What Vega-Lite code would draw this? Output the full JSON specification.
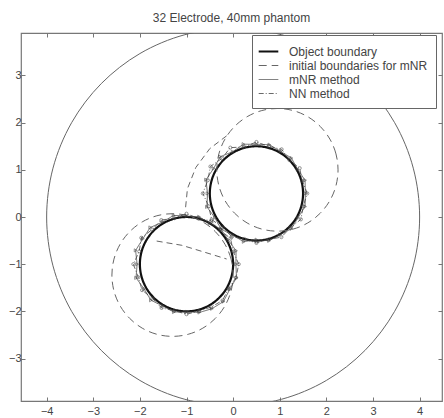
{
"$schema":"https://vega.github.io/schema/vega-lite/v6.json",
"width":421,"height":368,"autosize":"none",
"padding":{"left":21,"top":33,"right":2,"bottom":17},
"background":"white",
"title":{"text":"32 Electrode, 40mm phantom","fontSize":12,"font":"Liberation Sans","fontWeight":"normal","color":"#444","offset":8,"anchor":"middle"},
"config":{
 "view":{"stroke":"#777","strokeWidth":1.2},
 "axis":{"grid":false,"domain":false,"labelFont":"Liberation Sans","labelFontSize":11,"labelColor":"#444","tickColor":"#777","tickSize":-4,"labelPadding":4},
 "legend":{"orient":"none","legendX":231,"legendY":2,"strokeColor":"#666","fillColor":"white","padding":8,"symbolType":"M-1.4,0H1.4","symbolSize":196,"labelFont":"Liberation Sans","labelFontSize":12,"labelColor":"#444","labelOffset":12,"rowPadding":0}
},
"datasets":{"pts":[
{"s":"Outer","c":"big","i":0,"x":4,"y":0},{"s":"Outer","c":"big","i":1,"x":3.864,"y":1.035},{"s":"Outer","c":"big","i":2,"x":3.464,"y":2},{"s":"Outer","c":"big","i":3,"x":2.828,"y":2.828},{"s":"Outer","c":"big","i":4,"x":2,"y":3.464},{"s":"Outer","c":"big","i":5,"x":1.035,"y":3.864},{"s":"Outer","c":"big","i":6,"x":0,"y":4},{"s":"Outer","c":"big","i":7,"x":-1.035,"y":3.864},{"s":"Outer","c":"big","i":8,"x":-2,"y":3.464},{"s":"Outer","c":"big","i":9,"x":-2.828,"y":2.828},{"s":"Outer","c":"big","i":10,"x":-3.464,"y":2},{"s":"Outer","c":"big","i":11,"x":-3.864,"y":1.035},{"s":"Outer","c":"big","i":12,"x":-4,"y":0},{"s":"Outer","c":"big","i":13,"x":-3.864,"y":-1.035},{"s":"Outer","c":"big","i":14,"x":-3.464,"y":-2},{"s":"Outer","c":"big","i":15,"x":-2.828,"y":-2.828},{"s":"Outer","c":"big","i":16,"x":-2,"y":-3.464},{"s":"Outer","c":"big","i":17,"x":-1.035,"y":-3.864},{"s":"Outer","c":"big","i":18,"x":0,"y":-4},{"s":"Outer","c":"big","i":19,"x":1.035,"y":-3.864},{"s":"Outer","c":"big","i":20,"x":2,"y":-3.464},{"s":"Outer","c":"big","i":21,"x":2.828,"y":-2.828},{"s":"Outer","c":"big","i":22,"x":3.464,"y":-2},{"s":"Outer","c":"big","i":23,"x":3.864,"y":-1.035},

{"s":"Object boundary","c":"ou","i":0,"x":1.5,"y":0.5},{"s":"Object boundary","c":"ou","i":1,"x":1.466,"y":0.759},{"s":"Object boundary","c":"ou","i":2,"x":1.366,"y":1},{"s":"Object boundary","c":"ou","i":3,"x":1.207,"y":1.207},{"s":"Object boundary","c":"ou","i":4,"x":1,"y":1.366},{"s":"Object boundary","c":"ou","i":5,"x":0.759,"y":1.466},{"s":"Object boundary","c":"ou","i":6,"x":0.5,"y":1.5},{"s":"Object boundary","c":"ou","i":7,"x":0.241,"y":1.466},{"s":"Object boundary","c":"ou","i":8,"x":0,"y":1.366},{"s":"Object boundary","c":"ou","i":9,"x":-0.207,"y":1.207},{"s":"Object boundary","c":"ou","i":10,"x":-0.366,"y":1},{"s":"Object boundary","c":"ou","i":11,"x":-0.466,"y":0.759},{"s":"Object boundary","c":"ou","i":12,"x":-0.5,"y":0.5},{"s":"Object boundary","c":"ou","i":13,"x":-0.466,"y":0.241},{"s":"Object boundary","c":"ou","i":14,"x":-0.366,"y":0},{"s":"Object boundary","c":"ou","i":15,"x":-0.207,"y":-0.207},{"s":"Object boundary","c":"ou","i":16,"x":0,"y":-0.366},{"s":"Object boundary","c":"ou","i":17,"x":0.241,"y":-0.466},{"s":"Object boundary","c":"ou","i":18,"x":0.5,"y":-0.5},{"s":"Object boundary","c":"ou","i":19,"x":0.759,"y":-0.466},{"s":"Object boundary","c":"ou","i":20,"x":1,"y":-0.366},{"s":"Object boundary","c":"ou","i":21,"x":1.207,"y":-0.207},{"s":"Object boundary","c":"ou","i":22,"x":1.366,"y":0},{"s":"Object boundary","c":"ou","i":23,"x":1.466,"y":0.241},

{"s":"Object boundary","c":"ol","i":0,"x":0,"y":-1},{"s":"Object boundary","c":"ol","i":1,"x":-0.034,"y":-0.741},{"s":"Object boundary","c":"ol","i":2,"x":-0.134,"y":-0.5},{"s":"Object boundary","c":"ol","i":3,"x":-0.293,"y":-0.293},{"s":"Object boundary","c":"ol","i":4,"x":-0.5,"y":-0.134},{"s":"Object boundary","c":"ol","i":5,"x":-0.741,"y":-0.034},{"s":"Object boundary","c":"ol","i":6,"x":-1,"y":0},{"s":"Object boundary","c":"ol","i":7,"x":-1.259,"y":-0.034},{"s":"Object boundary","c":"ol","i":8,"x":-1.5,"y":-0.134},{"s":"Object boundary","c":"ol","i":9,"x":-1.707,"y":-0.293},{"s":"Object boundary","c":"ol","i":10,"x":-1.866,"y":-0.5},{"s":"Object boundary","c":"ol","i":11,"x":-1.966,"y":-0.741},{"s":"Object boundary","c":"ol","i":12,"x":-2,"y":-1},{"s":"Object boundary","c":"ol","i":13,"x":-1.966,"y":-1.259},{"s":"Object boundary","c":"ol","i":14,"x":-1.866,"y":-1.5},{"s":"Object boundary","c":"ol","i":15,"x":-1.707,"y":-1.707},{"s":"Object boundary","c":"ol","i":16,"x":-1.5,"y":-1.866},{"s":"Object boundary","c":"ol","i":17,"x":-1.259,"y":-1.966},{"s":"Object boundary","c":"ol","i":18,"x":-1,"y":-2},{"s":"Object boundary","c":"ol","i":19,"x":-0.741,"y":-1.966},{"s":"Object boundary","c":"ol","i":20,"x":-0.5,"y":-1.866},{"s":"Object boundary","c":"ol","i":21,"x":-0.293,"y":-1.707},{"s":"Object boundary","c":"ol","i":22,"x":-0.134,"y":-1.5},{"s":"Object boundary","c":"ol","i":23,"x":-0.034,"y":-1.259},

{"s":"initial boundaries for mNR","c":"iu","i":0,"x":2.25,"y":1.0},{"s":"initial boundaries for mNR","c":"iu","i":1,"x":2.206,"y":1.337},{"s":"initial boundaries for mNR","c":"iu","i":2,"x":2.076,"y":1.65},{"s":"initial boundaries for mNR","c":"iu","i":3,"x":1.869,"y":1.919},{"s":"initial boundaries for mNR","c":"iu","i":4,"x":1.6,"y":2.126},{"s":"initial boundaries for mNR","c":"iu","i":5,"x":1.287,"y":2.256},{"s":"initial boundaries for mNR","c":"iu","i":6,"x":0.95,"y":2.3},{"s":"initial boundaries for mNR","c":"iu","i":7,"x":0.614,"y":2.256},{"s":"initial boundaries for mNR","c":"iu","i":8,"x":0.3,"y":2.126},{"s":"initial boundaries for mNR","c":"iu","i":9,"x":0.031,"y":1.919},{"s":"initial boundaries for mNR","c":"iu","i":10,"x":-0.176,"y":1.65},{"s":"initial boundaries for mNR","c":"iu","i":11,"x":-0.306,"y":1.337},{"s":"initial boundaries for mNR","c":"iu","i":12,"x":-0.35,"y":1.0},{"s":"initial boundaries for mNR","c":"iu","i":13,"x":-0.306,"y":0.664},{"s":"initial boundaries for mNR","c":"iu","i":14,"x":-0.176,"y":0.35},{"s":"initial boundaries for mNR","c":"iu","i":15,"x":0.031,"y":0.081},{"s":"initial boundaries for mNR","c":"iu","i":16,"x":0.3,"y":-0.126},{"s":"initial boundaries for mNR","c":"iu","i":17,"x":0.614,"y":-0.256},{"s":"initial boundaries for mNR","c":"iu","i":18,"x":0.95,"y":-0.3},{"s":"initial boundaries for mNR","c":"iu","i":19,"x":1.287,"y":-0.256},{"s":"initial boundaries for mNR","c":"iu","i":20,"x":1.6,"y":-0.126},{"s":"initial boundaries for mNR","c":"iu","i":21,"x":1.869,"y":0.081},{"s":"initial boundaries for mNR","c":"iu","i":22,"x":2.076,"y":0.35},{"s":"initial boundaries for mNR","c":"iu","i":23,"x":2.206,"y":0.664},

{"s":"initial boundaries for mNR","c":"il","i":0,"x":0.0,"y":-1.23},{"s":"initial boundaries for mNR","c":"il","i":1,"x":-0.044,"y":-0.893},{"s":"initial boundaries for mNR","c":"il","i":2,"x":-0.174,"y":-0.58},{"s":"initial boundaries for mNR","c":"il","i":3,"x":-0.381,"y":-0.311},{"s":"initial boundaries for mNR","c":"il","i":4,"x":-0.65,"y":-0.104},{"s":"initial boundaries for mNR","c":"il","i":5,"x":-0.964,"y":0.026},{"s":"initial boundaries for mNR","c":"il","i":6,"x":-1.3,"y":0.07},{"s":"initial boundaries for mNR","c":"il","i":7,"x":-1.636,"y":0.026},{"s":"initial boundaries for mNR","c":"il","i":8,"x":-1.95,"y":-0.104},{"s":"initial boundaries for mNR","c":"il","i":9,"x":-2.219,"y":-0.311},{"s":"initial boundaries for mNR","c":"il","i":10,"x":-2.426,"y":-0.58},{"s":"initial boundaries for mNR","c":"il","i":11,"x":-2.556,"y":-0.893},{"s":"initial boundaries for mNR","c":"il","i":12,"x":-2.6,"y":-1.23},{"s":"initial boundaries for mNR","c":"il","i":13,"x":-2.556,"y":-1.567},{"s":"initial boundaries for mNR","c":"il","i":14,"x":-2.426,"y":-1.88},{"s":"initial boundaries for mNR","c":"il","i":15,"x":-2.219,"y":-2.149},{"s":"initial boundaries for mNR","c":"il","i":16,"x":-1.95,"y":-2.356},{"s":"initial boundaries for mNR","c":"il","i":17,"x":-1.636,"y":-2.486},{"s":"initial boundaries for mNR","c":"il","i":18,"x":-1.3,"y":-2.53},{"s":"initial boundaries for mNR","c":"il","i":19,"x":-0.964,"y":-2.486},{"s":"initial boundaries for mNR","c":"il","i":20,"x":-0.65,"y":-2.356},{"s":"initial boundaries for mNR","c":"il","i":21,"x":-0.381,"y":-2.149},{"s":"initial boundaries for mNR","c":"il","i":22,"x":-0.174,"y":-1.88},{"s":"initial boundaries for mNR","c":"il","i":23,"x":-0.044,"y":-1.567},

{"s":"mNR method","c":"mu","i":0,"x":1.55,"y":0.5},{"s":"mNR method","c":"mu","i":1,"x":1.543,"y":0.78},{"s":"mNR method","c":"mu","i":2,"x":1.383,"y":1.01},{"s":"mNR method","c":"mu","i":3,"x":1.25,"y":1.25},{"s":"mNR method","c":"mu","i":4,"x":1.015,"y":1.392},{"s":"mNR method","c":"mu","i":5,"x":0.777,"y":1.534},{"s":"mNR method","c":"mu","i":6,"x":0.5,"y":1.54},{"s":"mNR method","c":"mu","i":7,"x":0.221,"y":1.543},{"s":"mNR method","c":"mu","i":8,"x":-0.01,"y":1.383},{"s":"mNR method","c":"mu","i":9,"x":-0.278,"y":1.278},{"s":"mNR method","c":"mu","i":10,"x":-0.418,"y":1.03},{"s":"mNR method","c":"mu","i":11,"x":-0.582,"y":0.79},{"s":"mNR method","c":"mu","i":12,"x":-0.55,"y":0.5},{"s":"mNR method","c":"mu","i":13,"x":-0.5625,"y":0.215},{"s":"mNR method","c":"mu","i":14,"x":-0.392,"y":-0.015},{"s":"mNR method","c":"mu","i":15,"x":-0.257,"y":-0.257},{"s":"mNR method","c":"mu","i":16,"x":-0.01,"y":-0.383},{"s":"mNR method","c":"mu","i":17,"x":0.226,"y":-0.524},{"s":"mNR method","c":"mu","i":18,"x":0.5,"y":-0.48},{"s":"mNR method","c":"mu","i":19,"x":0.769,"y":-0.5045},{"s":"mNR method","c":"mu","i":20,"x":1.005,"y":-0.375},{"s":"mNR method","c":"mu","i":21,"x":1.2495,"y":-0.2495},{"s":"mNR method","c":"mu","i":22,"x":1.392,"y":-0.015},{"s":"mNR method","c":"mu","i":23,"x":1.543,"y":0.2205},

{"s":"NN method","c":"nu","i":0,"x":1.59,"y":0.5},{"s":"NN method","c":"nu","i":1,"x":1.485,"y":0.764},{"s":"NN method","c":"nu","i":2,"x":1.427,"y":1.035},{"s":"NN method","c":"nu","i":3,"x":1.207,"y":1.207},{"s":"NN method","c":"nu","i":4,"x":1.04,"y":1.435},{"s":"NN method","c":"nu","i":5,"x":0.767,"y":1.495},{"s":"NN method","c":"nu","i":6,"x":0.5,"y":1.59},{"s":"NN method","c":"nu","i":7,"x":0.236,"y":1.485},{"s":"NN method","c":"nu","i":8,"x":-0.06,"y":1.47},{"s":"NN method","c":"nu","i":9,"x":-0.242,"y":1.242},{"s":"NN method","c":"nu","i":10,"x":-0.487,"y":1.07},{"s":"NN method","c":"nu","i":11,"x":-0.543,"y":0.7795},{"s":"NN method","c":"nu","i":12,"x":-0.65,"y":0.5},{"s":"NN method","c":"nu","i":13,"x":-0.524,"y":0.226},{"s":"NN method","c":"nu","i":14,"x":-0.461,"y":-0.055},{"s":"NN method","c":"nu","i":15,"x":-0.221,"y":-0.221},{"s":"NN method","c":"nu","i":16,"x":-0.03,"y":-0.418},{"s":"NN method","c":"nu","i":17,"x":0.241,"y":-0.466},{"s":"NN method","c":"nu","i":18,"x":0.5,"y":-0.55},{"s":"NN method","c":"nu","i":19,"x":0.761,"y":-0.476},{"s":"NN method","c":"nu","i":20,"x":1.035,"y":-0.427},{"s":"NN method","c":"nu","i":21,"x":1.228,"y":-0.228},{"s":"NN method","c":"nu","i":22,"x":1.453,"y":-0.05},{"s":"NN method","c":"nu","i":23,"x":1.5045,"y":0.231},

{"s":"mNR method","c":"ml","i":0,"x":0.06,"y":-1},{"s":"mNR method","c":"ml","i":1,"x":0.0625,"y":-0.715},{"s":"mNR method","c":"ml","i":2,"x":-0.108,"y":-0.485},{"s":"mNR method","c":"ml","i":3,"x":-0.258,"y":-0.258},{"s":"mNR method","c":"ml","i":4,"x":-0.5,"y":-0.134},{"s":"mNR method","c":"ml","i":5,"x":-0.731,"y":0.0045},{"s":"mNR method","c":"ml","i":6,"x":-1,"y":0.02},{"s":"mNR method","c":"ml","i":7,"x":-1.277,"y":0.034},{"s":"mNR method","c":"ml","i":8,"x":-1.515,"y":-0.108},{"s":"mNR method","c":"ml","i":9,"x":-1.778,"y":-0.222},{"s":"mNR method","c":"ml","i":10,"x":-1.935,"y":-0.46},{"s":"mNR method","c":"ml","i":11,"x":-2.0915,"y":-0.7076},{"s":"mNR method","c":"ml","i":12,"x":-2.06,"y":-1},{"s":"mNR method","c":"ml","i":13,"x":-2.082,"y":-1.29},{"s":"mNR method","c":"ml","i":14,"x":-1.909,"y":-1.525},{"s":"mNR method","c":"ml","i":15,"x":-1.764,"y":-1.764},{"s":"mNR method","c":"ml","i":16,"x":-1.51,"y":-1.883},{"s":"mNR method","c":"ml","i":17,"x":-1.272,"y":-2.014},{"s":"mNR method","c":"ml","i":18,"x":-1,"y":-2.01},{"s":"mNR method","c":"ml","i":19,"x":-0.726,"y":-2.024},{"s":"mNR method","c":"ml","i":20,"x":-0.455,"y":-1.944},{"s":"mNR method","c":"ml","i":21,"x":-0.208,"y":-1.792},{"s":"mNR method","c":"ml","i":22,"x":-0.073,"y":-1.535},{"s":"mNR method","c":"ml","i":23,"x":0.072,"y":-1.287},

{"s":"NN method","c":"nl","i":0,"x":0.12,"y":-1},{"s":"NN method","c":"nl","i":1,"x":0.0045,"y":-0.731},{"s":"NN method","c":"nl","i":2,"x":-0.056,"y":-0.455},{"s":"NN method","c":"nl","i":3,"x":-0.279,"y":-0.279},{"s":"NN method","c":"nl","i":4,"x":-0.47,"y":-0.082},{"s":"NN method","c":"nl","i":5,"x":-0.741,"y":-0.034},{"s":"NN method","c":"nl","i":6,"x":-1,"y":0.07},{"s":"NN method","c":"nl","i":7,"x":-1.261,"y":-0.0244},{"s":"NN method","c":"nl","i":8,"x":-1.54,"y":-0.065},{"s":"NN method","c":"nl","i":9,"x":-1.735,"y":-0.265},{"s":"NN method","c":"nl","i":10,"x":-1.97,"y":-0.44},{"s":"NN method","c":"nl","i":11,"x":-2.014,"y":-0.728},{"s":"NN method","c":"nl","i":12,"x":-2.14,"y":-1},{"s":"NN method","c":"nl","i":13,"x":-2.034,"y":-1.277},{"s":"NN method","c":"nl","i":14,"x":-1.953,"y":-1.55},{"s":"NN method","c":"nl","i":15,"x":-1.728,"y":-1.728},{"s":"NN method","c":"nl","i":16,"x":-1.535,"y":-1.927},{"s":"NN method","c":"nl","i":17,"x":-1.264,"y":-1.985},{"s":"NN method","c":"nl","i":18,"x":-1,"y":-2.06},{"s":"NN method","c":"nl","i":19,"x":-0.733,"y":-1.995},{"s":"NN method","c":"nl","i":20,"x":-0.475,"y":-1.909},{"s":"NN method","c":"nl","i":21,"x":-0.229,"y":-1.771},{"s":"NN method","c":"nl","i":22,"x":-0.1,"y":-1.52},{"s":"NN method","c":"nl","i":23,"x":0.0625,"y":-1.2847},

{"s":"extra","c":"xa","i":0,"x":-0.14,"y":1.72},{"s":"extra","c":"xa","i":1,"x":-0.5,"y":1.45},{"s":"extra","c":"xa","i":2,"x":-0.8,"y":1.05},{"s":"extra","c":"xa","i":3,"x":-0.98,"y":0.6},{"s":"extra","c":"xa","i":4,"x":-1.02,"y":0.2},
{"s":"extra","c":"xb","i":0,"x":-1.64,"y":-0.51},{"s":"extra","c":"xb","i":1,"x":-1.1,"y":-0.6},{"s":"extra","c":"xb","i":2,"x":-0.6,"y":-0.75},{"s":"extra","c":"xb","i":3,"x":-0.14,"y":-0.89}
]},
"data":{"name":"pts"},
"resolve":{"axis":{"x":"independent","y":"independent"}},
"layer":[
 {"transform":[{"filter":"datum.c=='big'"}],
  "mark":{"type":"line","interpolate":"cardinal-closed","stroke":"#666","strokeWidth":1,"clip":true},
  "encoding":{
   "x":{"field":"x","type":"quantitative","scale":{"domain":[-4.55,4.48],"nice":false,"zero":false},"axis":{"orient":"bottom","values":[-4,-3,-2,-1,0,1,2,3,4],"title":null,"labelPadding":8}},
   "y":{"field":"y","type":"quantitative","scale":{"domain":[-3.9,3.9],"nice":false,"zero":false},"axis":{"orient":"left","values":[-3,-2,-1,0,1,2,3],"title":null}},
   "order":{"field":"i","type":"quantitative"}}},
 {"transform":[{"filter":"datum.s=='Object boundary' || datum.s=='initial boundaries for mNR'"}],
  "mark":{"type":"line","interpolate":"cardinal-closed"},
  "encoding":{
   "x":{"field":"x","type":"quantitative","axis":null},
   "y":{"field":"y","type":"quantitative","axis":null},
   "detail":{"field":"c"},
   "order":{"field":"i","type":"quantitative"},
   "color":{"field":"s","type":"nominal","scale":{"domain":["Object boundary","initial boundaries for mNR","mNR method","NN method"],"range":["#111","#666","#444","#444"]},"legend":{"title":null}},
   "strokeDash":{"field":"s","type":"nominal","scale":{"domain":["Object boundary","initial boundaries for mNR","mNR method","NN method"],"range":[[1,0],[8,5],[1,0],[5,2,1,2]]},"legend":{"title":null}},
   "strokeWidth":{"field":"s","type":"nominal","scale":{"type":"ordinal","domain":["Object boundary","initial boundaries for mNR","mNR method","NN method"],"range":[2.2,1,0.8,0.8]},"legend":{"title":null}}}},
 {"transform":[{"filter":"datum.s=='mNR method' || datum.s=='NN method'"}],
  "mark":{"type":"line","interpolate":"linear-closed"},
  "encoding":{
   "x":{"field":"x","type":"quantitative","axis":null},
   "y":{"field":"y","type":"quantitative","axis":null},
   "detail":{"field":"c"},
   "order":{"field":"i","type":"quantitative"},
   "color":{"field":"s","type":"nominal","scale":{"domain":["Object boundary","initial boundaries for mNR","mNR method","NN method"],"range":["#111","#666","#444","#444"]},"legend":{"title":null}},
   "strokeDash":{"field":"s","type":"nominal","scale":{"domain":["Object boundary","initial boundaries for mNR","mNR method","NN method"],"range":[[1,0],[8,5],[1,0],[5,2,1,2]]},"legend":{"title":null}},
   "strokeWidth":{"field":"s","type":"nominal","scale":{"type":"ordinal","domain":["Object boundary","initial boundaries for mNR","mNR method","NN method"],"range":[2.2,1,0.8,0.8]},"legend":{"title":null}}}},
 {"transform":[{"filter":"datum.s=='mNR method' || datum.s=='NN method'"}],
  "mark":{"type":"point","filled":false,"size":10,"strokeWidth":0.8,"color":"#444"},
  "encoding":{
   "x":{"field":"x","type":"quantitative","axis":null},
   "y":{"field":"y","type":"quantitative","axis":null},
   "shape":{"field":"s","type":"nominal","scale":{"domain":["mNR method","NN method"],"range":["triangle-right","circle"]},"legend":null}}},
 {"transform":[{"filter":"datum.s=='extra'"}],
  "mark":{"type":"line","stroke":"#666","strokeWidth":1,"strokeDash":[6,4]},
  "encoding":{
   "x":{"field":"x","type":"quantitative","axis":{"orient":"top","values":[-4,-3,-2,-1,0,1,2,3,4],"labels":false,"title":null}},
   "y":{"field":"y","type":"quantitative","axis":{"orient":"right","values":[-3,-2,-1,0,1,2,3],"labels":false,"title":null}},
   "detail":{"field":"c"},
   "order":{"field":"i","type":"quantitative"}}}
]
}
